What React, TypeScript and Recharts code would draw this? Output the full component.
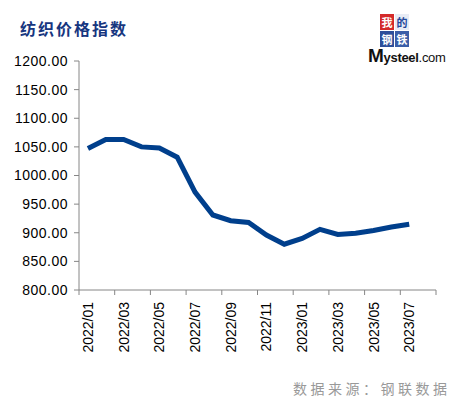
import { LineChart, Line, XAxis, YAxis } from "recharts";

const months = [
  "2022/01", "2022/02", "2022/03", "2022/04", "2022/05", "2022/06", "2022/07",
  "2022/08", "2022/09", "2022/10", "2022/11", "2022/12", "2023/01", "2023/02",
  "2023/03", "2023/04", "2023/05", "2023/06", "2023/07",
];
const indexValues = [
  1047, 1063, 1063, 1050, 1048, 1032, 971, 931, 921, 918,
  896, 880, 890, 906, 897, 899, 904, 910, 915,
];
const yTicks = [800, 850, 900, 950, 1000, 1050, 1100, 1150, 1200];
// one empty slot after the last month, like the original
const slotCount = months.length + 1;

const data = months.map((m, i) => ({ x: i + 0.5, month: m, value: indexValues[i] }));

// tick marks on slot edges every 2 months, labels in the middle of every other month
const xTicks: number[] = [];
for (let i = 0; i <= slotCount; i += 2) {
  xTicks.push(i);
  if (i < months.length) xTicks.push(i + 0.5);
}

const AXIS = "#868686";
const FONT = "'Liberation Sans', Arial, sans-serif";
const CJK = "'Noto Sans CJK SC', sans-serif";

function XTick(props: any) {
  const { x, y, payload } = props;
  const v = payload.value as number;
  if (Number.isInteger(v)) {
    return <line x1={x} x2={x} y1={y} y2={y + 5} stroke={AXIS} strokeWidth={1} />;
  }
  const label = months[Math.floor(v)];
  return (
    <text
      x={x}
      y={y + 12}
      transform={`rotate(-90, ${x}, ${y + 12})`}
      textAnchor="end"
      dominantBaseline="central"
      fontSize={14}
      fontFamily={FONT}
      fill="#000"
    >
      {label}
    </text>
  );
}

function Logo() {
  const cell = (ch: string, bg: string, color: string) => (
    <div
      style={{
        width: 14, height: 16, background: bg, color, fontSize: 11, lineHeight: "16px",
        textAlign: "center", fontFamily: CJK, fontWeight: 700, overflow: "hidden",
      }}
    >
      {ch}
    </div>
  );
  return (
    <div style={{ position: "absolute", left: 368, top: 14, width: 82 }}>
      <div style={{ marginLeft: 12, display: "grid", gridTemplateColumns: "14px 14px", gap: 1, width: 29 }}>
        {cell("我", "#d42a2a", "#fff")}
        {cell("的", "#e8ecf5", "#23479a")}
        {cell("钢", "#2d4f9a", "#fff")}
        {cell("铁", "#3b5ea8", "#fff")}
      </div>
      <div style={{ fontFamily: FONT, color: "#111", lineHeight: "18px", whiteSpace: "nowrap", letterSpacing: -0.3 }}>
        <span style={{ fontSize: 19, fontWeight: 700 }}>M</span>
        <span style={{ fontSize: 13, fontWeight: 700 }}>ysteel</span>
        <span style={{ fontSize: 13 }}>.com</span>
      </div>
    </div>
  );
}

export default function App() {
  return (
    <div style={{ position: "absolute", left: 0, top: 0, width: 458, height: 397, background: "#fff", overflow: "hidden" }}>
      <div
        style={{
          position: "absolute", left: 20, top: 18, fontFamily: CJK, fontWeight: 700,
          fontSize: 16, letterSpacing: 2, color: "#17367f", lineHeight: "20px",
        }}
      >
        纺织价格指数
      </div>
      <Logo />
      <LineChart width={458} height={397} data={data} margin={{ top: 61, right: 22, bottom: 47, left: 0 }}>
        <XAxis
          type="number"
          dataKey="x"
          domain={[0, slotCount]}
          ticks={xTicks}
          interval={0}
          tickLine={false}
          tickSize={0}
          tickMargin={0}
          height={60}
          axisLine={{ stroke: AXIS }}
          tick={<XTick />}
        />
        <YAxis
          domain={[800, 1200]}
          ticks={yTicks}
          interval={0}
          width={79}
          tickSize={5}
          tickMargin={6}
          tickFormatter={(v: number) => v.toFixed(2)}
          axisLine={{ stroke: AXIS }}
          tickLine={{ stroke: AXIS }}
          tick={{ fontSize: 14, fontFamily: FONT, fill: "#000", letterSpacing: 0.5 }}
        />
        <Line
          type="linear"
          dataKey="value"
          stroke="#003f8c"
          strokeWidth={5}
          dot={false}
          isAnimationActive={false}
        />
      </LineChart>
      <div
        style={{
          position: "absolute", left: 293, top: 378, fontFamily: CJK, fontSize: 14,
          letterSpacing: 3.5, color: "#999", lineHeight: "20px", whiteSpace: "nowrap",
        }}
      >
        数据来源：钢联数据
      </div>
    </div>
  );
}
